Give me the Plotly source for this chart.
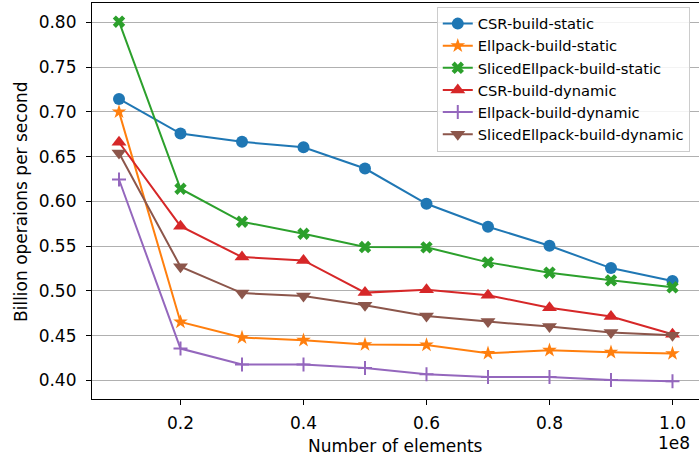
import plotly.graph_objects as go

# Problem sizes (number of elements)
elements = [1e7, 2e7, 3e7, 4e7, 5e7, 6e7, 7e7, 8e7, 9e7, 1e8]

# Throughput in billion operations per second
csr_static = [0.7145, 0.6758, 0.6665, 0.6605, 0.6367, 0.5973, 0.5717, 0.5504, 0.5254, 0.5109]
ellpack_static = [0.700, 0.4652, 0.4478, 0.4448, 0.4400, 0.4395, 0.4302, 0.4336, 0.4314, 0.4299]
sliced_static = [0.8008, 0.6141, 0.5772, 0.5638, 0.5489, 0.5486, 0.5318, 0.5203, 0.5117, 0.5039]
csr_dynamic = [0.6661, 0.5723, 0.5377, 0.5340, 0.4980, 0.5013, 0.4950, 0.4812, 0.4712, 0.4514]
ellpack_dynamic = [0.6244, 0.4355, 0.4176, 0.4176, 0.4138, 0.4068, 0.4038, 0.4036, 0.4003, 0.3989]
sliced_dynamic = [0.6540, 0.5270, 0.4975, 0.4942, 0.4838, 0.4719, 0.4656, 0.4600, 0.4533, 0.4503]

x_tick_vals = [2e7, 4e7, 6e7, 8e7, 1e8]
x_tick_text = ["0.2", "0.4", "0.6", "0.8", "1.0"]
y_tick_vals = [0.40, 0.45, 0.50, 0.55, 0.60, 0.65, 0.70, 0.75, 0.80]
y_tick_text = ["0.40", "0.45", "0.50", "0.55", "0.60", "0.65", "0.70", "0.75", "0.80"]

FONT = "DejaVu Sans"

series = [
    ("CSR-build-static", csr_static, "#1f77b4", "circle", 12, 0),
    ("Ellpack-build-static", ellpack_static, "#ff7f0e", "star", 11, 0),
    ("SlicedEllpack-build-static", sliced_static, "#2ca02c", "x", 11, 0),
    ("CSR-build-dynamic", csr_dynamic, "#d62728", "triangle-up", 13, 0),
    ("Ellpack-build-dynamic", ellpack_dynamic, "#9467bd", "cross-thin", 10, 2),
    ("SlicedEllpack-build-dynamic", sliced_dynamic, "#8c564b", "triangle-down", 13, 0),
]

fig = go.Figure()
for name, vals, color, symbol, size, lw in series:
    fig.add_trace(go.Scatter(
        x=elements, y=vals, name=name, mode="lines+markers",
        line=dict(color=color, width=2),
        marker=dict(symbol=symbol, size=size, color=color,
                    line=dict(color=color, width=lw)),
    ))

axis_font = dict(family=FONT, size=17, color="black")

fig.update_layout(
    width=699, height=459,
    margin=dict(l=92, r=0, t=3, b=60),
    paper_bgcolor="white", plot_bgcolor="white",
    font=dict(family=FONT, color="black"),
    showlegend=True,
    legend=dict(
        x=0.568, y=0.991, xanchor="left", yanchor="top",
        bgcolor="rgba(255,255,255,0.85)", bordercolor="#cccccc", borderwidth=1,
        font=dict(family=FONT, size=14.7, color="black"),
        tracegroupgap=0, itemwidth=30,
    ),
    xaxis=dict(
        range=[0.0561e8, 1.0431e8], tickvals=x_tick_vals, ticktext=x_tick_text,
        showgrid=False, zeroline=False,
        showline=True, linecolor="black", linewidth=1.2, mirror=True,
        ticks="outside", ticklen=5, tickcolor="black", tickwidth=1,
        tickfont=axis_font, ticklabelstandoff=3,
    ),
    yaxis=dict(
        range=[0.3791, 0.8217], tickvals=y_tick_vals, ticktext=y_tick_text,
        showgrid=True, gridcolor="#b0b0b0", gridwidth=1.3, zeroline=False,
        showline=True, linecolor="black", linewidth=1.2, mirror=False,
        ticks="outside", ticklen=5, tickcolor="black", tickwidth=1,
        tickfont=axis_font, ticklabelstandoff=6,
    ),
    annotations=[
        dict(text="Number of elements", xref="paper", yref="paper",
             x=0.5, y=-0.118, xanchor="center", yanchor="middle",
             showarrow=False, font=axis_font),
        dict(text="Billion operaions per second", xref="paper", yref="paper",
             x=-0.117, y=0.5, xanchor="center", yanchor="middle", textangle=-90,
             showarrow=False, font=axis_font),
        dict(text="1e8", xref="paper", yref="paper",
             x=0.9885, y=-0.112, xanchor="right", yanchor="middle",
             showarrow=False, font=axis_font),
    ],
)

fig.write_html("out.html")
